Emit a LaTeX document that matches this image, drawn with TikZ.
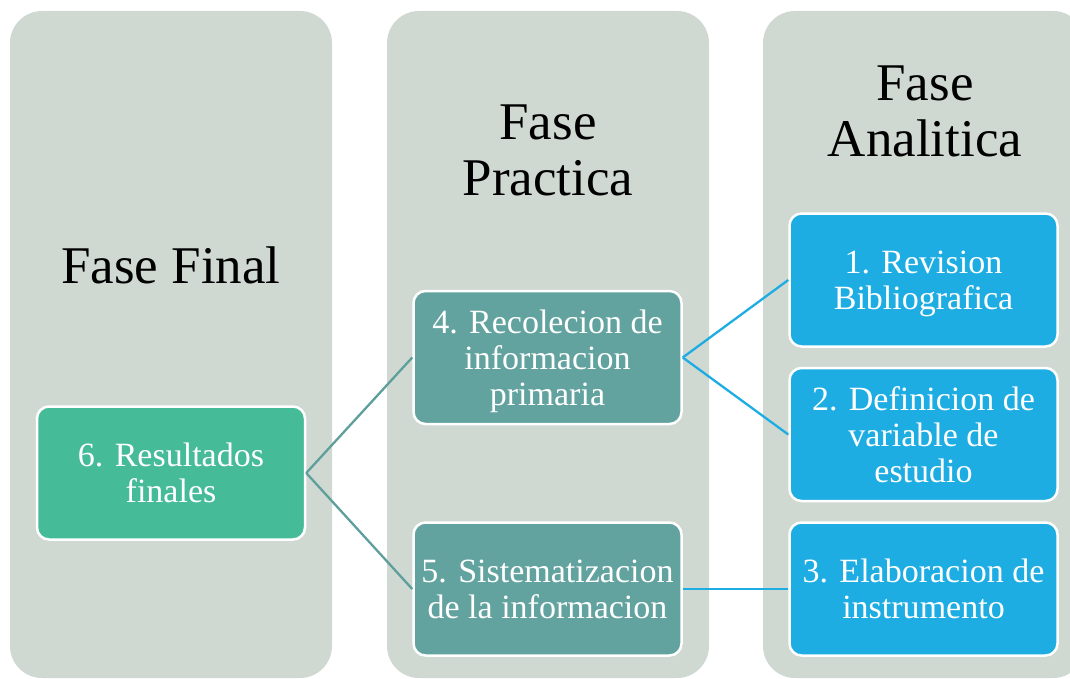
\documentclass[tikz,border=0pt]{standalone}
\usepackage{fontspec}
\setmainfont{Liberation Serif}
\definecolor{colbg}{HTML}{CFD9D1}
\definecolor{greenbox}{HTML}{45BB97}
\definecolor{tealbox}{HTML}{62A39F}
\definecolor{bluebox}{HTML}{1EADE3}
\definecolor{tealline}{HTML}{5E9F9B}
\newcommand{\upstrut}{\rule{0pt}{30.5pt}}
\begin{document}
\begin{tikzpicture}[x=1pt,y=-1pt,
  column/.style={fill=colbg, rounded corners=32pt},
  title/.style={align=center, font=\fontsize{53}{56}\selectfont, text=black, inner sep=0pt},
  box/.style={draw=white, line width=2.5pt, rounded corners=12pt, minimum width=268pt, minimum height=133pt,
    align=center, text=white, font=\fontsize{34}{36}\selectfont, inner sep=2pt},
  gbox/.style={box, fill=greenbox},
  tbox/.style={box, fill=tealbox},
  bbox/.style={box, fill=bluebox},
  tlink/.style={draw=tealline, line width=2.3pt},
  blink/.style={draw=bluebox, line width=2.3pt}]
\useasboundingbox (0,0) rectangle (1070,679);
\fill[column] (10,11) rectangle (332,678);
\fill[column] (387,11) rectangle (709,678);
\fill[column] (763,11) rectangle (1085,678);
\node[title] (t1) at (171,265) {Fase Final};
\node[title] (t2) at (548,150) {Fase\\Practica};
\node[title] (t3) at (925,111) {Fase\\Analitica};
\node[gbox] (n6) at (171,473) {6. Resultados\\finales};
\node[tbox] (n4) at (547.5,357.5) {\upstrut 4. Recolecion de\\informacion\\primaria};
\node[tbox] (n5) at (547.5,589) {5. Sistematizacion\\de la informacion};
\node[bbox] (n1) at (923.5,280) {\upstrut 1. Revision\\Bibliografica};
\node[bbox] (n2) at (923.5,434.5) {2. Definicion de\\variable de\\estudio};
\node[bbox] (n3) at (923.5,589) {3. Elaboracion de\\instrumento};
\draw[tlink] (n6.east) -- (n4.west);
\draw[tlink] (n6.east) -- (n5.west);
\draw[blink] (n4.east) -- (n1.west);
\draw[blink] (n4.east) -- (n2.west);
\draw[blink] (n5.east) -- (n3.west);
\end{tikzpicture}
\end{document}
